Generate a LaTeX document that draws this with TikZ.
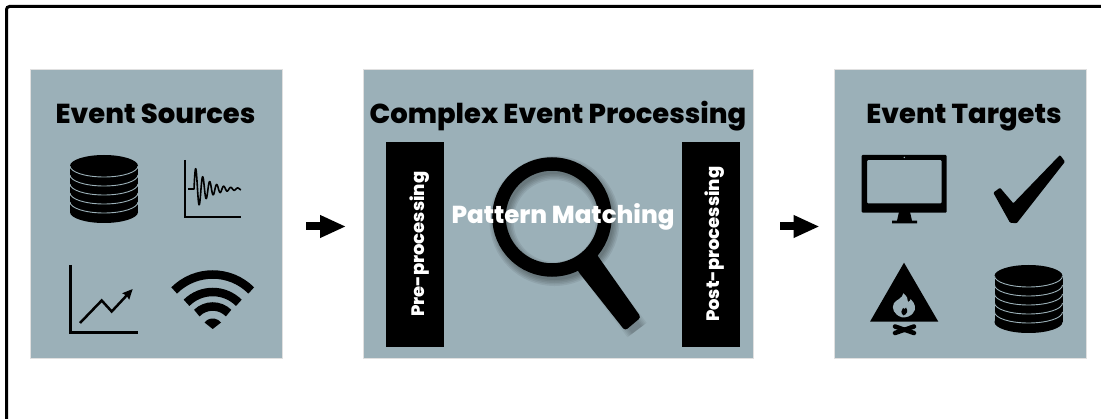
\documentclass[tikz,border=0pt]{standalone}
\usepackage{fontspec}
\setmainfont{Poppins}[BoldFont=Poppins ExtraBold]
\usetikzlibrary{arrows.meta}
\definecolor{panelgray}{RGB}{155,176,184}
\begin{document}
\begin{tikzpicture}[x=1pt, y=-1pt, >=stealth]
        \tikzstyle{panel}=[fill=panelgray,draw=black!12,line width=.8pt,inner sep=0pt]
        \tikzstyle{title}=[anchor=base,inner sep=0pt,font=\bfseries\fontsize{27.4}{27.4}\selectfont]
        \tikzstyle{bar}=[fill=black,text=white,rotate=90,minimum width=205pt,minimum height=58pt,inner sep=0pt,text height=18pt,text depth=0pt,font=\bfseries\fontsize{18}{18}\selectfont]
        \tikzstyle{flow}=[-{Stealth[length=26pt,width=21pt,inset=0pt]},line width=8pt]
        \tikzstyle{axis}=[line width=2.2pt,line join=miter]

        \useasboundingbox (0,0) rectangle (1101,419);
        \draw[line width=3pt,rounded corners=3pt] (6.5,419) -- (6.5,6.5) -- (1101,6.5);

        \node[panel,minimum width=252pt,minimum height=289pt](sources) at (156,213.5){};
        \node[panel,minimum width=390pt,minimum height=289pt](cep) at (558,213.5){};
        \node[panel,minimum width=252pt,minimum height=289pt](targets) at (960,213.5){};

        \node[title](sources-title) at (155.5,123.2){Event Sources};
        \node[title](cep-title) at (558,123.2){Complex Event Processing};
        \node[title](targets-title) at (964,123.2){Event Targets};

        %databases
        \foreach \dbx/\dby in {104/166, 1028.5/276}{
            \fill (\dbx-34,\dby) rectangle (\dbx+34,\dby+46);
            \fill (\dbx,\dby+46) ellipse [x radius=34, y radius=11];
            \fill (\dbx,\dby) ellipse [x radius=34, y radius=11];
            \foreach \k in {0,1,2,3,4}{
                \draw[panelgray,line width=.9pt] (\dbx-34,\dby+\k*9) arc [start angle=180,end angle=0,x radius=34,y radius=11];
            }
        }

        %signal
        \draw[axis] (184.7,160) -- (184.7,216.7) -- (241,216.7);
        \draw[line width=1.6pt,line join=round] (188,189) -- (194,189) -- plot[domain=194:241,samples=150] (\x,{189-23*exp(-(\x-194)/14)*sin(51.43*(\x-194))});

        %chart
        \draw[axis,line width=2.5pt] (70.7,265) -- (70.7,332.5) -- (137.7,332.5);
        \draw[line width=2.5pt,-{Stealth[length=10pt,width=9pt,inset=1pt]}] (80,323) -- (101.7,300.5) -- (111.7,311.5) -- (132.7,289);

        %wifi
        \foreach \r in {54.5,37,22.5}{
            \draw[line width=8.5pt] (212.7-\r*0.7071,329-\r*0.7071) arc [start angle=225,end angle=315,radius=\r];
        }
        \fill (212.7,329) -- (204.5,322.5) arc [start angle=218,end angle=322,radius=10.5] -- cycle;

        %magnifier
        \foreach \w in {24,21,18,15,12}{
            \draw[black,opacity=.07,line width=\w pt] (554.5,221) circle [radius=53];
            \draw[black,opacity=.05,line width=\w pt] (592,270) -- (637,330);
        }
        \draw[line width=13.5pt] (552,217) circle [radius=53];
        \fill (576,266) -- (596,252) -- (598.3,256.7) [rounded corners=3pt] -- (641,317.3) -- (625,330.7) -- (578.3,271.7) [sharp corners] -- cycle;

        \node[bar](pre) at (415,244.2){Pre-processing};
        \node[bar](post) at (710.5,244.2){Post-processing};
        \node[anchor=base,inner sep=0pt,text=white,font=\bfseries\fontsize{24.5}{24.5}\selectfont](matching) at (563,224){Pattern Matching};

        \draw[flow] ([xshift=24pt,yshift=-13pt]sources.east) -- ([xshift=-16.5pt,yshift=-13pt]cep.west);
        \draw[flow] ([xshift=27pt,yshift=-13pt]cep.east) -- ([xshift=-14pt,yshift=-13pt]targets.west);

        %monitor
        \fill[rounded corners=1pt,even odd rule] (861.7,155) rectangle (946.7,212.7) (867,160) rectangle (941.7,203.3);
        \fill (899,212) -- (910,212) -- (912,220.7) -- (917,220.7) -- (917,223.3) -- (892,223.3) -- (892,220.7) -- (897,220.7) -- cycle;
        \fill[panelgray] (904.3,157.4) circle [radius=.8];

        %check mark
        \fill[rounded corners=1pt] (1060,155) -- (1065,161.7) -- (1016.7,223.3) -- (1010,222.7) -- (993.3,192.7) -- (1000,187.7) -- (1013.3,203.3) -- cycle;

        %campfire
        \fill (904,262.7) -- (938.3,321.7) -- (870,321.7) -- cycle;
        \fill[panelgray] (902,317.3) .. controls (894,315) and (891,308) .. (894,303) .. controls (896,300) and (903,298) .. (903.3,293.3) .. controls (907,296) and (908,299) .. (908,302) .. controls (910,301) and (911,300) .. (910.5,299) .. controls (915,303) and (917,309) .. (913,313) .. controls (911,316) and (906,318) .. (902,317.3);
        \fill (903.5,315.5) .. controls (900.5,313) and (901,310) .. (903,308) .. controls (904,310) and (905.5,308.5) .. (906,307.5) .. controls (908.5,311) and (907,314) .. (903.5,315.5);
        \draw[line width=4.5pt,line cap=round] (895,326.5) -- (914,333);
        \draw[line width=4.5pt,line cap=round] (895,333) -- (914,326.5);
\end{tikzpicture}
\end{document}
